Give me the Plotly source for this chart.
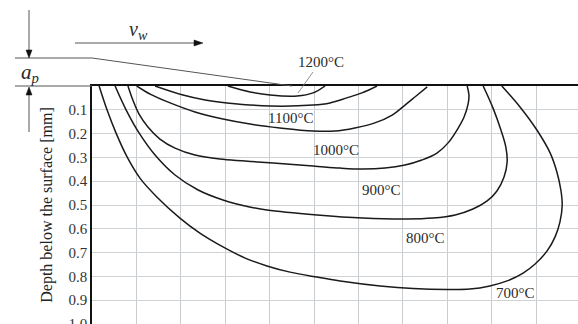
import plotly.graph_objects as go

# ---- data (x in grid units along the workpiece, depth in mm) ----
iso_labels = ["700°C", "800°C", "900°C", "1000°C", "1100°C", "1200°C"]

x_700 = [0.16, 0.34, 0.54, 0.79, 1.08, 1.46, 1.98, 2.43, 2.95, 3.45, 3.94, 4.46, 5.07, 5.59, 6.49, 7.23,
         8.00, 8.51, 8.96, 9.35, 9.71, 9.98, 10.25, 10.43, 10.54, 10.59, 10.56, 10.47, 10.32, 10.02, 9.64, 9.23]
d_700 = [0.000, 0.101, 0.197, 0.298, 0.387, 0.466, 0.555, 0.618, 0.676, 0.723, 0.756, 0.782, 0.803, 0.819,
         0.840, 0.851, 0.855, 0.853, 0.840, 0.819, 0.786, 0.748, 0.693, 0.634, 0.571, 0.500, 0.437, 0.361,
         0.282, 0.185, 0.088, 0.000]

x_800 = [0.52, 0.77, 1.06, 1.42, 1.87, 2.39, 2.95, 3.45, 3.94, 5.07, 6.10, 7.09, 7.68, 8.18, 8.58, 8.90,
         9.12, 9.28, 9.35, 9.32, 9.21, 9.03, 8.81]
d_800 = [0.000, 0.101, 0.197, 0.290, 0.374, 0.437, 0.479, 0.504, 0.521, 0.542, 0.555, 0.559, 0.555, 0.542,
         0.517, 0.483, 0.441, 0.382, 0.319, 0.256, 0.185, 0.092, 0.000]

x_900 = [0.81, 0.92, 1.06, 1.26, 1.53, 1.87, 2.32, 2.88, 3.45, 4.08, 4.98, 5.59, 6.10, 6.60, 7.05, 7.43,
         7.77, 8.02, 8.22, 8.38, 8.47, 8.49, 8.45]
d_900 = [0.000, 0.059, 0.118, 0.172, 0.223, 0.261, 0.290, 0.307, 0.315, 0.324, 0.336, 0.345, 0.349, 0.345,
         0.332, 0.311, 0.282, 0.239, 0.185, 0.130, 0.076, 0.038, 0.000]

x_1000 = [1.01, 1.31, 1.76, 2.32, 2.95, 3.56, 4.23, 4.98, 5.47, 5.92, 6.37, 6.76, 7.05, 7.30, 7.55]
d_1000 = [0.000, 0.034, 0.071, 0.109, 0.139, 0.160, 0.176, 0.189, 0.189, 0.176, 0.155, 0.122, 0.080, 0.042,
          0.004]

x_1100 = [1.42, 2.05, 2.55, 3.04, 4.01, 4.98, 5.36, 5.74, 6.08, 6.42]
d_1100 = [0.000, 0.038, 0.059, 0.071, 0.084, 0.080, 0.071, 0.050, 0.029, 0.000]

x_1200 = [3.06, 3.56, 4.01, 4.62, 4.98, 5.25]
d_1200 = [0.000, 0.025, 0.038, 0.042, 0.029, 0.000]

# label anchor positions (x, depth)
label_x = [9.53, 7.52, 6.51, 5.50, 4.48, 5.16]
label_d = [0.87, 0.64, 0.437, 0.27, 0.134, -0.10]

depth_ticks = [0.1, 0.2, 0.3, 0.4, 0.5, 0.6, 0.7, 0.8, 0.9, 1.0]
depth_tick_text = ["0.1", "0.2", "0.3", "0.4", "0.5", "0.6", "0.7", "0.8", "0.9", "1.0"]
x_grid = list(range(0, 12))

series = [(x_700, d_700), (x_800, d_800), (x_900, d_900), (x_1000, d_1000), (x_1100, d_1100), (x_1200, d_1200)]

W, H = 578, 324
L, T = 92, 86
PW, PH = W - L, H - T
XMAX = PW / 44.4
SERIF = "Liberation Serif"
INK = "#2a2a2a"

fig = go.Figure()
for (xs, ds), name in zip(series, iso_labels):
    fig.add_trace(go.Scatter(x=xs, y=ds, mode="lines", name=name,
                             line=dict(color="#1a1a1a", width=1.5, shape="spline", smoothing=1.0),
                             showlegend=False, hoverinfo="skip"))


def px(xp):
    return (xp - L) / PW


def py(yp):
    return (H - yp) / PH


# isotherm labels, placed in paper coordinates derived from the data positions
for lx, ld, name in zip(label_x, label_d, iso_labels):
    fig.add_annotation(x=lx / XMAX, y=1 - ld, xref="paper", yref="paper", text=name, showarrow=False,
                       xanchor="center", yanchor="middle",
                       font=dict(family=SERIF, size=15, color=INK))

shapes = []
grey = "#555555"
# surface line continuing to the left
shapes.append(dict(type="line", xref="paper", yref="paper", x0=px(15), x1=px(92), y0=py(86), y1=py(86),
                   line=dict(color=grey, width=1)))
# original workpiece surface (before grinding)
shapes.append(dict(type="path", xref="paper", yref="paper",
                   path=f"M {px(15)} {py(58)} L {px(92)} {py(58)} L {px(292)} {py(86)}",
                   line=dict(color=grey, width=1)))
# leader line for 1200°C
shapes.append(dict(type="line", xref="paper", yref="paper", x0=px(313), y0=py(72), x1=px(298), y1=py(93),
                   line=dict(color="#777777", width=0.8)))
# down arrow (a_p)
shapes.append(dict(type="line", xref="paper", yref="paper", x0=px(29), x1=px(29), y0=py(10), y1=py(52),
                   line=dict(color=grey, width=1)))
shapes.append(dict(type="path", xref="paper", yref="paper",
                   path=f"M {px(26)} {py(50)} L {px(32)} {py(50)} L {px(29)} {py(58)} Z",
                   fillcolor="#111111", line=dict(color="#111111", width=0.5)))
# up arrow (a_p)
shapes.append(dict(type="line", xref="paper", yref="paper", x0=px(29), x1=px(29), y0=py(132), y1=py(94),
                   line=dict(color=grey, width=1)))
shapes.append(dict(type="path", xref="paper", yref="paper",
                   path=f"M {px(26)} {py(95)} L {px(32)} {py(95)} L {px(29)} {py(87)} Z",
                   fillcolor="#111111", line=dict(color="#111111", width=0.5)))
# feed arrow v_w
shapes.append(dict(type="line", xref="paper", yref="paper", x0=px(75), x1=px(196), y0=py(43), y1=py(43),
                   line=dict(color=grey, width=1)))
shapes.append(dict(type="path", xref="paper", yref="paper",
                   path=f"M {px(194)} {py(40)} L {px(194)} {py(46)} L {px(203)} {py(43)} Z",
                   fillcolor="#111111", line=dict(color="#111111", width=0.5)))
fig.update_layout(shapes=shapes)

fig.add_annotation(xref="paper", yref="paper", x=px(138), y=py(31), text="<i>v<sub>w</sub></i>",
                   xanchor="center", yanchor="middle",
                   showarrow=False, font=dict(family=SERIF, size=20, color=INK))
fig.add_annotation(xref="paper", yref="paper", x=px(30), y=py(73), text="<i>a<sub>p</sub></i>",
                   xanchor="center", yanchor="middle",
                   showarrow=False, font=dict(family=SERIF, size=21, color=INK))

fig.update_xaxes(range=[0, XMAX], tickvals=x_grid, showticklabels=False, ticks="",
                 showgrid=True, gridcolor="#c9cdd1", gridwidth=1, zeroline=False, automargin=False,
                 side="top", showline=True, linecolor="#111111", linewidth=1.5)
fig.update_yaxes(range=[1.0, 0], tickvals=depth_ticks, ticktext=depth_tick_text, ticks="",
                 ticklabeloverflow="allow", automargin=False,
                 showgrid=True, gridcolor="#cfd3d6", gridwidth=1.2, zeroline=False,
                 showline=True, linecolor="#111111", linewidth=1.5,
                 tickfont=dict(family=SERIF, size=15, color="#333333"),
                 title=dict(text="Depth below the surface [mm]", standoff=12,
                            font=dict(family=SERIF, size=16, color="#222222")))

fig.update_layout(width=W, height=H, margin=dict(l=L, r=0, t=T, b=0, pad=0),
                  plot_bgcolor="white", paper_bgcolor="white")

fig.write_html("out.html", config={"displayModeBar": False},
               post_script="document.body.style.margin='0px';document.body.style.overflow='hidden';")
